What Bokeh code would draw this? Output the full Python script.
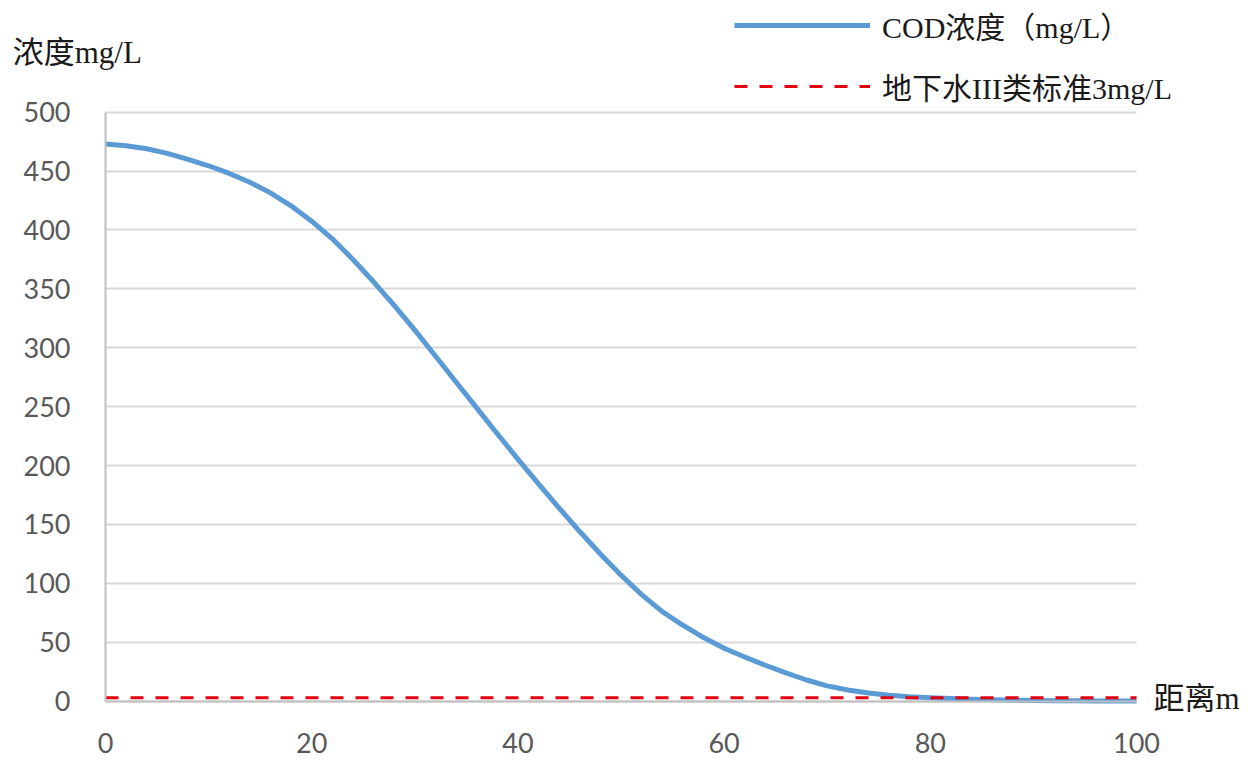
from bokeh.plotting import figure
from bokeh.models import Range1d, Legend, LegendItem, Label, FixedTicker
from bokeh.embed import file_html
from bokeh.resources import INLINE

# Data
distance_m = [0, 2, 4, 6, 8, 10, 12, 14, 16, 18, 20, 22, 24, 26, 28, 30, 32,
              34, 36, 38, 40, 42, 44, 46, 48, 50, 52, 54, 56, 58, 60, 62, 64,
              66, 68, 70, 72, 74, 76, 78, 80, 82, 84, 86, 88, 90, 92, 94, 96,
              98, 100]
cod_mg_l = [473, 471.5, 469, 465, 460, 454.5, 448, 440.5, 431.5, 420.5, 407.5,
            392.5, 375, 356, 336, 315, 293, 271, 249, 227, 205.5, 184.5, 164,
            144, 125, 107, 90.5, 76, 64.5, 54, 45, 37.5, 30.5, 24, 18, 13,
            9.5, 7, 5, 3.8, 3, 2.2, 1.6, 1.2, 0.9, 0.6, 0.4, 0.3, 0.2, 0.1,
            0.1]
standard_x = [0, 100]
standard_y = [3, 3]

x_ticks = [0, 20, 40, 60, 80, 100]
y_ticks = [0, 50, 100, 150, 200, 250, 300, 350, 400, 450, 500]

series_label = "COD浓度（mg/L）"
standard_label = "地下水III类标准3mg/L"
y_title = "浓度mg/L"
x_title = "距离m"

SERIF = "'Liberation Serif', 'Noto Sans CJK SC'"

# frame spans the whole canvas; the axes are fixed at zero so that the
# legend and the titles sit inside the frame
p = figure(width=1254, height=774, output_backend="svg", toolbar_location=None,
           x_range=Range1d(-10.184, 111.445), y_range=Range1d(-62.22, 594.8),
           min_border=0)
p.outline_line_color = None
p.background_fill_color = "white"
p.border_fill_color = "white"

r_cod = p.line(distance_m, cod_mg_l, line_color="#5B9BD5", line_width=5,
               line_join="round")
r_std = p.line(standard_x, standard_y, line_color="#E3000F", line_width=3,
               line_dash="13 12")

# axes
p.xaxis.ticker = FixedTicker(ticks=x_ticks)
p.yaxis.ticker = FixedTicker(ticks=y_ticks)
p.xaxis.fixed_location = 0
p.yaxis.fixed_location = 0
p.xaxis.bounds = (0, 100)
p.yaxis.bounds = (0, 500)
for ax in (p.xaxis[0], p.yaxis[0]):
    ax.major_tick_line_color = None
    ax.minor_tick_line_color = None
    ax.axis_line_color = "#BFBFBF"
    ax.axis_line_width = 2
    ax.major_label_text_font = "Lato"
    ax.major_label_text_font_size = "27px"
    ax.major_label_text_color = "#595959"
p.yaxis.major_label_standoff = 29
p.xaxis.major_label_standoff = 26

p.xgrid.grid_line_color = None
g = p.ygrid[0]
g.grid_line_color = "#D9D9D9"
g.grid_line_width = 2
g.ticker = FixedTicker(ticks=y_ticks)
g.bounds = (0, 500)
if "cross_bounds" in g.properties():
    g.cross_bounds = (0, 100)

# legend
legend = Legend(items=[LegendItem(label=series_label, renderers=[r_cod]),
                       LegendItem(label=standard_label, renderers=[r_std])],
                location=(734, 666))
legend.background_fill_alpha = 0
legend.border_line_color = None
legend.padding = 0
legend.margin = 0
legend.spacing = 17
legend.glyph_width = 136
legend.glyph_height = 40
legend.label_height = 40
legend.label_standoff = 12
legend.label_text_font = SERIF
legend.label_text_font_size = "30px"
legend.label_text_color = "#1a1a1a"
p.add_layout(legend, "center")

# axis titles
p.add_layout(Label(x=-9.0, y=550.7, text=y_title, text_font=SERIF,
                   text_font_size="31px", text_color="#1a1a1a",
                   text_baseline="middle", text_align="left"))
p.add_layout(Label(x=101.65, y=2.5, text=x_title, text_font=SERIF,
                   text_font_size="31px", text_color="#1a1a1a",
                   text_baseline="middle", text_align="left"))

open("out.html", "w").write(file_html(p, INLINE))
